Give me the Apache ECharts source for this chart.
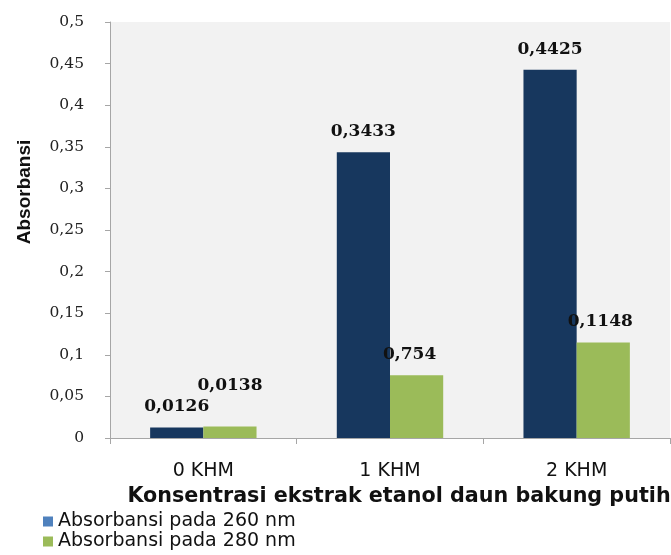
<!DOCTYPE html>
<html>
<head>
<meta charset="utf-8">
<script src="https://cdn.jsdelivr.net/npm/echarts@6/dist/echarts.min.js"></script>
<style>html,body{margin:0;padding:0;background:#fff;}#chart{width:671px;height:555px;}</style>
</head>
<body>
<div id="chart"></div>
<script>
const categories = ['0 KHM', '1 KHM', '2 KHM'];
const seriesNames = ['Absorbansi pada 260 nm', 'Absorbansi pada 280 nm'];
const values260 = [0.0126, 0.3433, 0.4425];
const values280 = [0.0138, 0.0754, 0.1148];
const labels260 = ['0,0126', '0,3433', '0,4425'];
const labels280 = ['0,0138', '0,754', '0,1148'];
const yTicks = { min: 0, max: 0.5, interval: 0.05 };
const xAxisTitle = 'Konsentrasi ekstrak etanol daun bakung putih';
const yAxisTitle = 'Absorbansi';

const labelFont = { fontFamily: 'DejaVu Serif', fontWeight: 'bold', fontSize: 17, color: '#111' };
const offsets280 = [[0, -20], [-7, 0], [-3, 0]];

const chart = echarts.init(document.getElementById('chart'), null, { renderer: 'canvas' });
chart.setOption({
  animation: false,
  backgroundColor: '#ffffff',
  grid: { left: 110, right: 1, top: 22, bottom: 117, show: true, backgroundColor: '#f2f2f2', borderWidth: 0, containLabel: false, outerBoundsMode: 'none' },
  legend: {
    orient: 'vertical', left: 43, top: 512, padding: 0, itemWidth: 10, itemHeight: 10, itemGap: 1,
    icon: 'rect',
    textStyle: { fontFamily: 'DejaVu Sans', fontSize: 19, lineHeight: 19, color: '#111', padding: [0, 0, 0, 0] },
    data: [
      { name: seriesNames[0], itemStyle: { color: '#4f81bd' } },
      { name: seriesNames[1], itemStyle: { color: '#9bbb59' } }
    ]
  },
  xAxis: {
    type: 'category', data: categories,
    name: xAxisTitle, nameLocation: 'middle', nameGap: 48,
    nameTextStyle: { fontFamily: 'DejaVu Sans', fontWeight: 'bold', fontSize: 20.7, color: '#111', padding: [0, 0, 0, 18] },
    axisLine: { lineStyle: { color: '#a6a6a6', width: 1 } },
    axisTick: { show: true, length: 6, lineStyle: { color: '#a6a6a6' } },
    axisLabel: { fontFamily: 'DejaVu Sans', fontSize: 19, color: '#111', margin: 24 }
  },
  yAxis: {
    type: 'value', min: yTicks.min, max: yTicks.max, interval: yTicks.interval,
    name: yAxisTitle, nameLocation: 'middle', nameGap: 76, nameRotate: 90,
    nameTextStyle: { fontFamily: 'Liberation Sans', fontWeight: 'bold', fontSize: 19, color: '#111', padding: [0, 0, 0, 76] },
    splitLine: { show: false },
    axisLine: { show: true, lineStyle: { color: '#a6a6a6', width: 1 } },
    axisTick: { show: true, length: 5, lineStyle: { color: '#a6a6a6' } },
    axisLabel: {
      fontFamily: 'DejaVu Serif', fontSize: 15.5, color: '#222', margin: 26,
      formatter: v => String(+v.toFixed(2)).replace('.', ',')
    }
  },
  series: [
    {
      name: seriesNames[0], type: 'bar', barGap: '0%', barCategoryGap: '43%',
      itemStyle: { color: '#17375e' },
      label: { show: true, position: 'top', distance: 12, ...labelFont, formatter: p => labels260[p.dataIndex] },
      data: values260
    },
    {
      name: seriesNames[1], type: 'bar', barGap: '0%', barCategoryGap: '43%',
      itemStyle: { color: '#9bbb59' },
      label: { show: true, position: 'top', distance: 12, ...labelFont, formatter: p => labels280[p.dataIndex] },
      data: values280.map((v, i) => ({ value: v, label: { offset: offsets280[i] } }))
    }
  ]
});
</script>
</body>
</html>
